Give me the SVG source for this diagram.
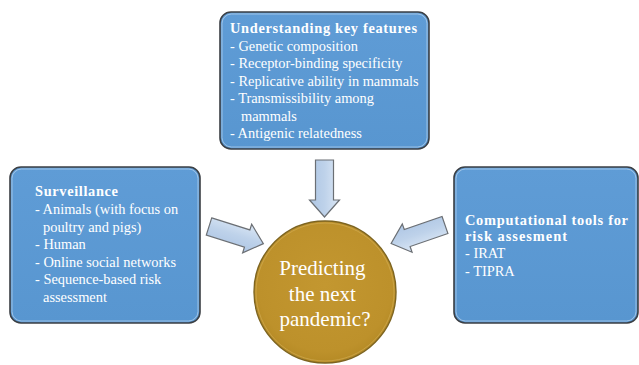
<svg xmlns="http://www.w3.org/2000/svg" width="639" height="365" viewBox="0 0 639 365">
  <defs>
    <linearGradient id="boxFill" x1="0" y1="0" x2="0" y2="1">
      <stop offset="0" stop-color="#5f9cd6"/>
      <stop offset="1" stop-color="#5896d0"/>
    </linearGradient>
    <linearGradient id="arrowFill" x1="0" y1="0" x2="0" y2="1">
      <stop offset="0" stop-color="#dbe7f5"/>
      <stop offset="0.5" stop-color="#bed2ea"/>
      <stop offset="1" stop-color="#aec6e4"/>
    </linearGradient>
    <radialGradient id="discFill" cx="0.5" cy="0.45" r="0.55">
      <stop offset="0" stop-color="#c39730"/>
      <stop offset="0.85" stop-color="#bd912b"/>
      <stop offset="1" stop-color="#b58a25"/>
    </radialGradient>
    <path id="arrowShape" d="M0,-9 L40,-9 L40,-15 L57,0 L40,15 L40,9 L0,9 Z"/>
  </defs>
  <style>
    .box { fill: url(#boxFill); stroke: #3b3f44; stroke-width: 1.6; }
    .bevel { fill: none; stroke: #d6e6f6; stroke-width: 1; opacity: 0.55; }
    .arrow { fill: url(#arrowFill); stroke: #6b6f74; stroke-width: 1.2; stroke-linejoin: miter; }
    .txt { font-family: "Liberation Serif", "Times New Roman", serif; font-size: 14.4px; fill: #ffffff; }
    .head { font-weight: bold; }
    .hub { font-family: "Liberation Serif", "Times New Roman", serif; font-size: 21px; fill: #ffffff; text-anchor: middle; }
  </style>

  <!-- connectors: three block arrows pointing at the central disc -->
  <g id="connectors">
    <use href="#arrowShape" class="arrow" transform="translate(324.5,160) rotate(90)"/>
    <use href="#arrowShape" class="arrow" transform="translate(209,226.5) rotate(17.5)"/>
    <use href="#arrowShape" class="arrow" transform="translate(445,225) rotate(161)"/>
  </g>

  <!-- top: key features -->
  <g id="node-features">
    <rect class="box" x="220" y="12" width="209" height="137" rx="11"/>
    <rect class="bevel" x="222" y="14" width="205" height="133" rx="9.5"/>
    <text class="txt head" x="230" y="32.5" textLength="187">Understanding key features</text>
    <text class="txt">
      <tspan x="230" y="50.5">- Genetic composition</tspan>
      <tspan x="230" y="68">- Receptor-binding specificity</tspan>
      <tspan x="230" y="85.5">- Replicative ability in mammals</tspan>
      <tspan x="230" y="103">- Transmissibility among</tspan>
      <tspan x="241" y="120.5">mammals</tspan>
      <tspan x="230" y="138">- Antigenic relatedness</tspan>
    </text>
  </g>

  <!-- left: surveillance -->
  <g id="node-surveillance">
    <rect class="box" x="10" y="167" width="190" height="156" rx="11"/>
    <rect class="bevel" x="12" y="169" width="186" height="152" rx="9.5"/>
    <text class="txt head" x="35" y="196" textLength="83">Surveillance</text>
    <text class="txt">
      <tspan x="35" y="214">- Animals (with focus on</tspan>
      <tspan x="43" y="231.5">poultry and pigs)</tspan>
      <tspan x="35" y="249">- Human</tspan>
      <tspan x="35" y="266.5">- Online social networks</tspan>
      <tspan x="35" y="284">- Sequence-based risk</tspan>
      <tspan x="43" y="301.5">assessment</tspan>
    </text>
  </g>

  <!-- right: computational tools -->
  <g id="node-tools">
    <rect class="box" x="454" y="167" width="184" height="156" rx="11"/>
    <rect class="bevel" x="456" y="169" width="180" height="152" rx="9.5"/>
    <text class="txt head" x="465" y="224.5" textLength="163">Computational tools for</text>
    <text class="txt head" x="465" y="241" textLength="102">risk assesment</text>
    <text class="txt">
      <tspan x="465" y="258">- IRAT</tspan>
      <tspan x="465" y="275.5">- TIPRA</tspan>
    </text>
  </g>

  <!-- centre: the question -->
  <g id="node-question">
    <circle cx="325" cy="292" r="71" fill="url(#discFill)" stroke="#7d6420" stroke-width="1.4"/>
    <circle cx="325" cy="292" r="69" fill="none" stroke="#e0c070" stroke-width="0.8" opacity="0.5"/>
    <text class="hub">
      <tspan x="325" y="275">Predicting</tspan>
      <tspan x="325" y="300.5">the next</tspan>
      <tspan x="325" y="326">pandemic?</tspan>
    </text>
  </g>
</svg>
